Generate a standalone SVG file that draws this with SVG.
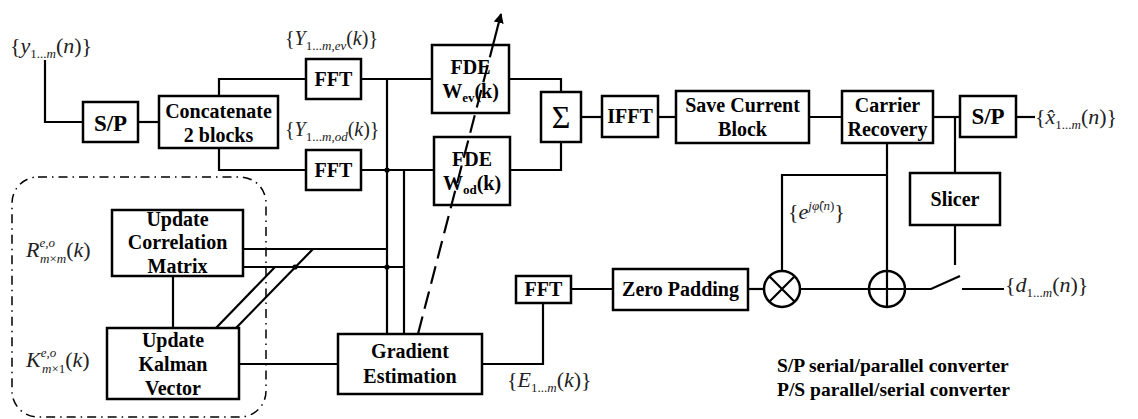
<svg xmlns="http://www.w3.org/2000/svg" width="1138" height="419" viewBox="0 0 1138 419">
<style>
.box{fill:#fff;stroke:#000;stroke-width:2.5}
.ln{fill:none;stroke:#000;stroke-width:2.2}
.dot{fill:#000}
</style>
<defs>
<marker id="ah" viewBox="0 0 10 10" refX="9" refY="5" markerWidth="10" markerHeight="10" markerUnits="userSpaceOnUse" orient="auto">
<path d="M0,0 L10,5 L0,10 z" fill="#000"/>
</marker>
</defs>

<rect id="kalman-group" x="12" y="177" width="254" height="240" rx="26" fill="none" stroke="#000" stroke-width="1.5" stroke-dasharray="9 5 1.5 5"/>

<g id="connectors">
<path class="ln" d="M45,60 V122 H83"/>
<path class="ln" d="M138,122 H159"/>
<path class="ln" d="M219,96 V79 H306"/>
<path class="ln" d="M219,148 V170 H306"/>
<path class="ln" d="M361,79 H432"/>
<path class="ln" d="M361,170 H434"/>
<path class="ln" d="M387,79 V334"/>
<path class="ln" d="M404,170 V334"/>
<path class="ln" d="M509,79 H561 V92"/>
<path class="ln" d="M510,170 H561 V142"/>
<path class="ln" d="M581,117 H602"/>
<path class="ln" d="M658,117 H676"/>
<path class="ln" d="M809,117 H842"/>
<path class="ln" d="M933,117 H960"/>
<path class="ln" d="M1016,117 H1035"/>
<path class="ln" d="M955,117 V173"/>
<path class="ln" d="M887,143 V307"/>
<path class="ln" d="M887,175 H782 V271"/>
<path class="ln" d="M955,225 V265"/>
<path class="ln" d="M748,289 H764"/>
<path class="ln" d="M800,289 H931 L960,276"/>
<path class="ln" d="M962,289 H1004"/>
<path class="ln" d="M571,289 H613"/>
<path class="ln" d="M543,303 V364 H482"/>
<path class="ln" d="M239,364 H338"/>
<path class="ln" d="M243,249 H387"/>
<path class="ln" d="M243,267 H404"/>
<path class="ln" d="M216,328 L275,267"/>
<path class="ln" d="M236,328 L313,249"/>
<path class="ln" d="M173,276 V328"/>
<circle class="dot" cx="387" cy="170" r="2.6"/>
<circle class="dot" cx="387" cy="267" r="2.6"/>
<circle class="dot" cx="295" cy="267" r="2.6"/>
</g>

<g id="nodes" font-family="Liberation Serif, serif" font-weight="bold" font-size="20" text-anchor="middle" fill="#000">
<g id="sp1"><rect class="box" x="83" y="102" width="55" height="40"/><text x="110.5" y="131" font-size="23">S/P</text></g>
<g id="concat"><rect class="box" x="159" y="96" width="119" height="52"/><text x="218.5" y="118">Concatenate</text><text x="218.5" y="142">2 blocks</text></g>
<g id="fft1"><rect class="box" x="306" y="59" width="55" height="40"/><text x="333.5" y="86">FFT</text></g>
<g id="fft2"><rect class="box" x="306" y="150" width="55" height="40"/><text x="333.5" y="177">FFT</text></g>
<g id="fde-ev"><rect class="box" x="432" y="45" width="77" height="68"/><text x="470.5" y="74">FDE</text><text x="470.5" y="98">W<tspan font-size="13" dy="4">ev</tspan><tspan dy="-4">(k)</tspan></text></g>
<g id="fde-od"><rect class="box" x="434" y="137" width="76" height="68"/><text x="472" y="166">FDE</text><text x="472" y="190">W<tspan font-size="13" dy="4">od</tspan><tspan dy="-4">(k)</tspan></text></g>
<g id="sum"><rect class="box" x="541" y="92" width="40" height="50"/><text x="561" y="128" font-size="32" font-weight="normal">Σ</text></g>
<g id="ifft"><rect class="box" x="602" y="96" width="56" height="41"/><text x="630" y="123">IFFT</text></g>
<g id="save"><rect class="box" x="676" y="91" width="133" height="52"/><text x="742.5" y="112">Save Current</text><text x="742.5" y="136">Block</text></g>
<g id="carrier"><rect class="box" x="842" y="91" width="91" height="52"/><text x="887.5" y="112">Carrier</text><text x="887.5" y="136">Recovery</text></g>
<g id="sp2"><rect class="box" x="960" y="96" width="56" height="41"/><text x="988" y="124" font-size="23">S/P</text></g>
<g id="slicer"><rect class="box" x="910" y="173" width="90" height="52"/><text x="955" y="206">Slicer</text></g>
<g id="mult"><circle class="box" cx="782" cy="289" r="18"/><path class="ln" d="M769.3,276.3 L794.7,301.7 M794.7,276.3 L769.3,301.7"/></g>
<g id="add"><circle class="box" cx="887" cy="289" r="18"/><path class="ln" d="M869,289 H905 M887,271 V307"/></g>
<g id="fft3"><rect class="box" x="516" y="276" width="55" height="27"/><text x="543.5" y="296">FFT</text></g>
<g id="zeropad"><rect class="box" x="613" y="269" width="135" height="41"/><text x="680.5" y="296">Zero Padding</text></g>
<g id="gradient"><rect class="box" x="338" y="334" width="144" height="60"/><text x="410" y="358">Gradient</text><text x="410" y="383">Estimation</text></g>
<g id="corr"><rect class="box" x="112" y="210" width="131" height="66"/><text x="177.5" y="226">Update</text><text x="177.5" y="249">Correlation</text><text x="177.5" y="273">Matrix</text></g>
<g id="kalman"><rect class="box" x="107" y="328" width="132" height="71"/><text x="173" y="347">Update</text><text x="173" y="371">Kalman</text><text x="173" y="395">Vector</text></g>
</g>

<g id="adapt-arrow">
<path class="ln" d="M418,334 L493,45" stroke-dasharray="18 8"/>
<path class="ln" d="M493,45 L501,14" marker-end="url(#ah)"/>
</g>

<g id="labels" font-family="Liberation Serif, serif" font-size="22" fill="#222">
<text x="10" y="53">{<tspan font-style="italic">y</tspan><tspan font-size="13" dy="5">1...</tspan><tspan font-size="13" font-style="italic">m</tspan><tspan dy="-5">(</tspan><tspan font-style="italic">n</tspan>)}</text>
<text x="285" y="45" font-size="20">{<tspan font-style="italic">Y</tspan><tspan font-size="13" dy="5">1...</tspan><tspan font-size="13" font-style="italic">m</tspan><tspan font-size="13">,</tspan><tspan font-size="13" font-style="italic">ev</tspan><tspan dy="-5">(</tspan><tspan font-style="italic">k</tspan>)}</text>
<text x="285" y="136" font-size="20">{<tspan font-style="italic">Y</tspan><tspan font-size="13" dy="5">1...</tspan><tspan font-size="13" font-style="italic">m</tspan><tspan font-size="13">,</tspan><tspan font-size="13" font-style="italic">od</tspan><tspan dy="-5">(</tspan><tspan font-style="italic">k</tspan>)}</text>
<text x="1035" y="124">{<tspan font-style="italic">x̂</tspan><tspan font-size="13" dy="5">1...</tspan><tspan font-size="13" font-style="italic">m</tspan><tspan dy="-5">(</tspan><tspan font-style="italic">n</tspan>)}</text>
<text x="1005" y="292">{<tspan font-style="italic">d</tspan><tspan font-size="13" dy="5">1...</tspan><tspan font-size="13" font-style="italic">m</tspan><tspan dy="-5">(</tspan><tspan font-style="italic">n</tspan>)}</text>
<text x="507" y="387">{<tspan font-style="italic">E</tspan><tspan font-size="13" dy="5">1...</tspan><tspan font-size="13" font-style="italic">m</tspan><tspan dy="-5">(</tspan><tspan font-style="italic">k</tspan>)}</text>
<text x="788" y="219">{<tspan font-style="italic">e</tspan><tspan font-size="13" font-style="italic" dy="-9">jφ̂</tspan><tspan font-size="13">(</tspan><tspan font-size="13" font-style="italic">n</tspan><tspan font-size="13">)</tspan><tspan dy="9">}</tspan></text>
<text x="26" y="257"><tspan font-style="italic">R</tspan><tspan font-size="13" font-style="italic" dy="-10">e,o</tspan><tspan font-size="13" font-style="italic" x="40" dy="16">m</tspan><tspan font-size="13">×</tspan><tspan font-size="13" font-style="italic">m</tspan><tspan dy="-6">(</tspan><tspan font-style="italic">k</tspan>)</text>
<text x="26" y="367"><tspan font-style="italic">K</tspan><tspan font-size="13" font-style="italic" dy="-10">e,o</tspan><tspan font-size="13" font-style="italic" x="42" dy="16">m</tspan><tspan font-size="13">×1</tspan><tspan dy="-6">(</tspan><tspan font-style="italic">k</tspan>)</text>
<text x="777" y="372" font-weight="bold" font-size="19.5" fill="#000">S/P serial/parallel converter</text>
<text x="777" y="396" font-weight="bold" font-size="19.5" fill="#000">P/S parallel/serial converter</text>
</g>
</svg>
